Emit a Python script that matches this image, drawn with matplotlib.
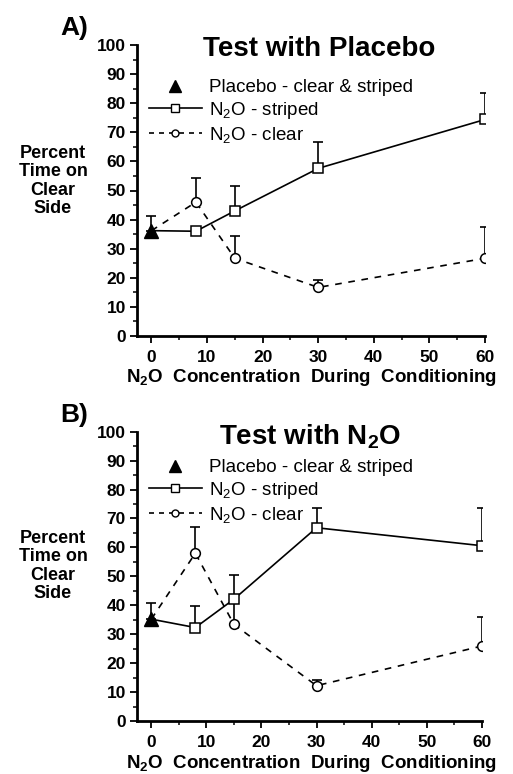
import matplotlib
matplotlib.use("Agg")
import matplotlib.pyplot as plt
from matplotlib.lines import Line2D
import numpy as np

plt.rcParams['font.family'] = ['Liberation Sans', 'DejaVu Sans']
plt.rcParams['mathtext.fontset'] = 'custom'
plt.rcParams['mathtext.rm'] = 'Liberation Sans'
plt.rcParams['mathtext.bf'] = 'Liberation Sans:bold'
plt.rcParams['mathtext.it'] = 'Liberation Sans:italic'

# ---- data ----
conc = [8, 15, 30, 60]
placebo_x = [0]

# Panel A: Test with Placebo
a_placebo = [36.2]
a_placebo_err = [5.1]
a_striped = [36.0, 43.0, 57.6, 74.4]
a_striped_err = [0.0, 8.5, 9.2, 9.0]
a_clear = [46.0, 26.7, 16.7, 26.7]
a_clear_err = [8.4, 7.7, 2.5, 10.9]

# Panel B: Test with N2O
b_placebo = [35.2]
b_placebo_err = [5.7]
b_striped = [32.3, 42.1, 66.8, 60.6]
b_striped_err = [7.6, 8.4, 6.9, 13.1]
b_clear = [58.0, 33.4, 12.2, 25.9]
b_clear_err = [9.2, 8.0, 2.0, 10.1]

xticks = [0, 10, 20, 30, 40, 50, 60]
yticks = [0, 10, 20, 30, 40, 50, 60, 70, 80, 90, 100]

W, H = 513, 774
fig = plt.figure(figsize=(W / 100, H / 100), dpi=100)


def fx(px):
    return px / W


def fy(py):
    return 1 - py / H


def panel(rect, placebo, placebo_err, striped, striped_err, clear, clear_err,
          title, title_x, title_y, leg_y, letter, letter_y, ylab_y, xlab_y):
    ax = fig.add_axes(rect)
    xs = placebo_x + conc
    ax.plot(xs, placebo + striped, color='black', lw=1.2, ls='-', zorder=2)
    ax.plot(xs, placebo + clear, color='black', lw=1.2, ls=(0, (4, 4)),
            zorder=2)
    # error bars (upper only)
    for yv, ev, xv in [(striped, striped_err, conc), (clear, clear_err, conc),
                       (placebo, placebo_err, placebo_x)]:
        ax.errorbar(xv, yv, yerr=[np.zeros(len(yv)), ev],
                    fmt='none', ecolor='black', elinewidth=1.2, capsize=3.5,
                    capthick=1.2, zorder=1)
    # markers
    ax.plot(conc, striped, ls='none', marker='s', markersize=7.5,
            markerfacecolor='white', markeredgecolor='black', mew=1.1, zorder=3)
    ax.plot(conc, clear, ls='none', marker='o', markersize=7,
            markerfacecolor='white', markeredgecolor='black', mew=1.1, zorder=3)
    ax.plot(placebo_x, placebo, ls='none', marker='^', markersize=9.5,
            color='black', zorder=4)

    ax.set_xlim(-2.6, 60)
    ax.set_ylim(0, 100)
    ax.set_xticks(xticks)
    ax.set_xticks([5, 15, 25, 35, 45, 55], minor=True)
    ax.set_yticks(yticks)
    ax.set_yticks(np.arange(5, 100, 10), minor=True)
    ax.set_xticklabels([str(t) for t in xticks], fontsize=12.5, fontweight='bold')
    ax.set_yticklabels([str(t) for t in yticks], fontsize=12.5, fontweight='bold')
    ax.tick_params(axis='both', which='major', length=5, width=1.3,
                   direction='out', pad=3)
    ax.tick_params(axis='both', which='minor', length=3, width=1.1,
                   direction='out')
    ax.tick_params(axis='x', which='major', pad=5)
    for s in ['top', 'right']:
        ax.spines[s].set_visible(False)
    for s in ['left', 'bottom']:
        ax.spines[s].set_linewidth(2.0)
    ax.patch.set_alpha(0)

    fig.text(fx(title_x), fy(title_y), title, fontsize=20, fontweight='bold',
             ha='center', va='center')
    fig.text(fx(74), fy(letter_y), letter, fontsize=19, fontweight='bold',
             ha='center', va='center')
    fig.text(fx(53), fy(ylab_y), 'Percent\nTime on\nClear\nSide',
             fontsize=13, fontweight='bold', ha='center', va='center',
             linespacing=1.1)
    fig.text(fx(312), fy(xlab_y),
             r'N$_{\mathbf{2}}$O  Concentration  During  Conditioning',
             fontsize=13.5, fontweight='bold', ha='center', va='center')

    handles = [
        Line2D([], [], ls='none', marker='^', markersize=8, color='black'),
        Line2D([], [], ls='-', lw=1.2, color='black', marker='s',
               markersize=6, markerfacecolor='white', markeredgecolor='black'),
        Line2D([], [], ls=(0, (3, 3)), lw=1.2, color='black', marker='o',
               markersize=5, markerfacecolor='white', markeredgecolor='black'),
    ]
    labels = ['Placebo - clear & striped', r'N$_2$O - striped',
              r'N$_2$O - clear']
    ax.legend(handles, labels, loc='upper left',
              bbox_to_anchor=(fx(149), fy(leg_y)),
              bbox_transform=fig.transFigure, frameon=False,
              fontsize=13.5, handlelength=2.8, handletextpad=0.4,
              labelspacing=0.2, borderpad=0, borderaxespad=0)
    return ax


panel([fx(137), fy(336), fx(485) - fx(137), (336 - 45) / H],
      a_placebo, a_placebo_err, a_striped, a_striped_err, a_clear, a_clear_err,
      'Test with Placebo', 319, 49, 79, 'A)', 28, 181, 377)

panel([fx(137), fy(721), fx(481.7) - fx(137), (721 - 431.7) / H],
      b_placebo, b_placebo_err, b_striped, b_striped_err, b_clear, b_clear_err,
      r'Test with N$_{\mathbf{2}}$O', 310, 437, 459, 'B)', 415, 566, 764)

fig.savefig('out.png', dpi=100)
